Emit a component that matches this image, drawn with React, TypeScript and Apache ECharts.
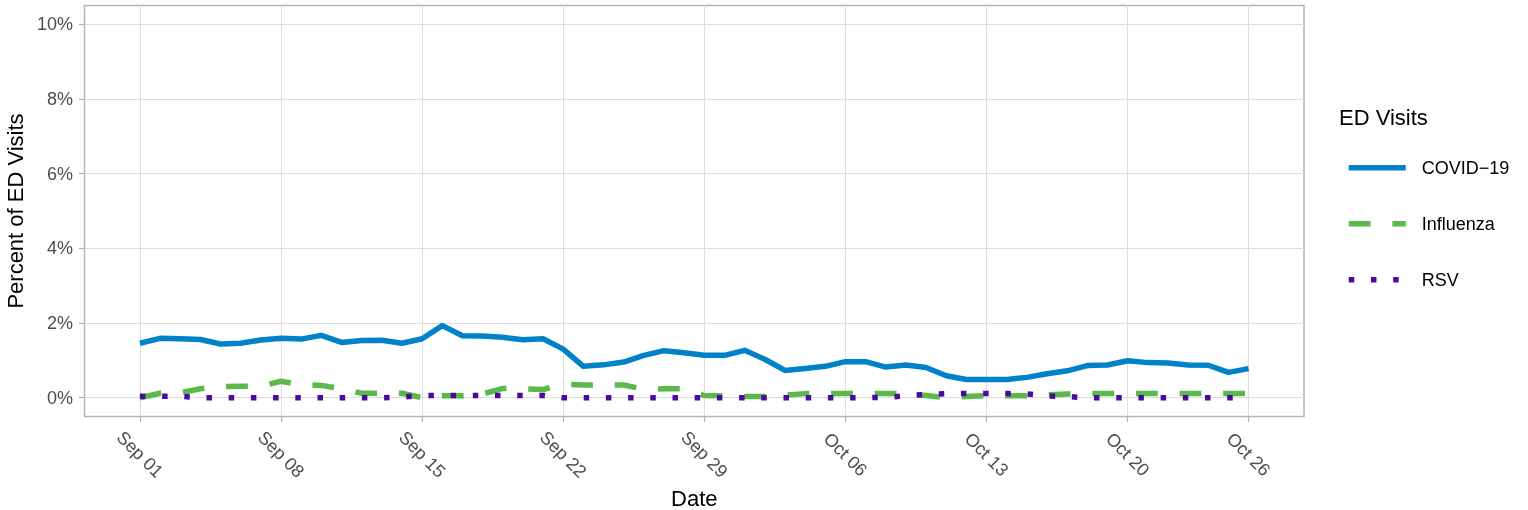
import React, { useEffect, useRef } from 'react';
import * as echarts from 'echarts';

const dates = [
  'Sep 01', 'Sep 02', 'Sep 03', 'Sep 04', 'Sep 05', 'Sep 06', 'Sep 07',
  'Sep 08', 'Sep 09', 'Sep 10', 'Sep 11', 'Sep 12', 'Sep 13', 'Sep 14',
  'Sep 15', 'Sep 16', 'Sep 17', 'Sep 18', 'Sep 19', 'Sep 20', 'Sep 21',
  'Sep 22', 'Sep 23', 'Sep 24', 'Sep 25', 'Sep 26', 'Sep 27', 'Sep 28',
  'Sep 29', 'Sep 30', 'Oct 01', 'Oct 02', 'Oct 03', 'Oct 04', 'Oct 05',
  'Oct 06', 'Oct 07', 'Oct 08', 'Oct 09', 'Oct 10', 'Oct 11', 'Oct 12',
  'Oct 13', 'Oct 14', 'Oct 15', 'Oct 16', 'Oct 17', 'Oct 18', 'Oct 19',
  'Oct 20', 'Oct 21', 'Oct 22', 'Oct 23', 'Oct 24', 'Oct 25', 'Oct 26',
];

const covid = [
  1.46, 1.59, 1.58, 1.56, 1.44, 1.46, 1.545, 1.59, 1.57, 1.67,
  1.48, 1.53, 1.54, 1.46, 1.58, 1.93, 1.66, 1.65, 1.62, 1.55,
  1.58, 1.3, 0.84, 0.88, 0.955, 1.135, 1.26, 1.205, 1.14, 1.135,
  1.27, 1.03, 0.73, 0.78, 0.84, 0.965, 0.965, 0.82, 0.875, 0.81,
  0.59, 0.49, 0.49, 0.49, 0.545, 0.64, 0.72, 0.86, 0.875, 0.99,
  0.94, 0.93, 0.875, 0.87, 0.68, 0.78,
];

const influenza = [
  0.0, 0.12, 0.13, 0.24, 0.3, 0.31, 0.31, 0.44, 0.35, 0.33,
  0.24, 0.12, 0.12, 0.12, 0.0, 0.05, 0.05, 0.1, 0.25, 0.24,
  0.22, 0.36, 0.34, 0.34, 0.34, 0.23, 0.24, 0.24, 0.06, 0.05,
  0.03, 0.03, 0.07, 0.11, 0.11, 0.11, 0.11, 0.11, 0.11, 0.06,
  0.0, 0.03, 0.06, 0.05, 0.05, 0.08, 0.1, 0.11, 0.11, 0.11,
  0.11, 0.11, 0.11, 0.11, 0.11, 0.11,
];

const rsv = [
  0.04, 0.04, 0.04, 0, 0, 0, 0, 0, 0, 0,
  0, 0, 0, 0.02, 0.06, 0.06, 0.06, 0.06, 0.06, 0.06,
  0.06, 0, 0, 0, 0, 0, 0, 0, 0, 0,
  0, 0, 0, 0, 0, 0, 0, 0.01, 0.05, 0.09,
  0.11, 0.11, 0.11, 0.11, 0.1, 0.05, 0.03, 0, 0, 0,
  0, 0, 0, 0, 0, 0,
];

const seriesNames = ['COVID−19', 'Influenza', 'RSV'];
const xTickLabels = ['Sep 01', 'Sep 08', 'Sep 15', 'Sep 22', 'Sep 29', 'Oct 06', 'Oct 13', 'Oct 20', 'Oct 26'];
const yTicks = [0, 2, 4, 6, 8, 10];

export default function App() {
  const ref = useRef<HTMLDivElement>(null);
  useEffect(() => {
    const chart = echarts.init(ref.current!, null, { renderer: 'svg' });
    const font = '"Liberation Sans", Arial, Helvetica, sans-serif';
    const xTickDays = xTickLabels.map((l) => dates.indexOf(l));
    const toPairs = (arr: number[]) => arr.map((v, i) => [i, v]);
    const gridLine = { show: true, lineStyle: { color: '#dedede', width: 1 } };
    const tick = { show: true, inside: false, length: 5.5, lineStyle: { color: '#b3b3b3', width: 1.2 } };
    const mk = (name: string, data: number[], color: string, type: any) => ({
      name,
      type: 'line',
      data: toPairs(data),
      symbol: 'none',
      showSymbol: false,
      silent: true,
      itemStyle: { color },
      lineStyle: { color, width: 5.5, type, cap: 'butt', join: 'round' },
    });
    chart.setOption({
      animation: false,
      textStyle: { fontFamily: font },
      grid: {
        left: 84.5,
        right: 224,
        top: 5.6,
        bottom: 93.6,
        containLabel: false,
        outerBoundsMode: 'none',
        show: true,
        borderColor: '#b3b3b3',
        borderWidth: 1.5,
        backgroundColor: 'transparent',
      },
      xAxis: {
        type: 'value',
        min: -2.75,
        max: 57.75,
        name: 'Date',
        nameLocation: 'middle',
        nameGap: 63,
        nameTextStyle: { fontSize: 22, color: '#000', fontFamily: font },
        axisLine: { show: false, onZero: false },
        axisTick: { ...tick, customValues: xTickDays },
        axisLabel: {
          customValues: xTickDays,
          formatter: (v: number) => {
            const i = xTickDays.indexOf(Math.round(v));
            return i >= 0 ? xTickLabels[i] : '';
          },
          rotate: -45,
          align: 'center',
          verticalAlign: 'middle',
          margin: 38,
          fontSize: 18,
          color: '#4d4d4d',
          fontFamily: font,
        },
        splitLine: gridLine,
      },
      yAxis: {
        type: 'value',
        min: -0.5,
        max: 10.5,
        name: 'Percent of ED Visits',
        nameLocation: 'middle',
        nameGap: 54,
        nameTextStyle: { fontSize: 22, color: '#000', fontFamily: font },
        axisLine: { show: false, onZero: false },
        axisTick: { ...tick, customValues: yTicks },
        axisLabel: {
          customValues: yTicks,
          formatter: (v: number) => `${Math.round(v)}%`,
          margin: 11.5,
          fontSize: 18,
          color: '#4d4d4d',
          fontFamily: font,
        },
        splitLine: gridLine,
      },
      legend: {
        orient: 'vertical',
        left: 1346,
        top: 158.7,
        padding: 0,
        itemWidth: 57,
        itemHeight: 20,
        itemGap: 38,
        selectedMode: false,
        data: seriesNames,
        textStyle: { fontSize: 18, color: '#000', fontFamily: font, padding: [0, 0, 0, 11] },
        lineStyle: { width: 5.5 },
        itemStyle: { opacity: 0 },
      },
      graphic: [
        {
          type: 'text',
          x: 1339,
          y: 117.5,
          style: { text: 'ED Visits', fontSize: 22, fill: '#000', fontFamily: font, verticalAlign: 'middle', align: 'left' },
        },
      ],
      series: [
        mk(seriesNames[0], covid, '#0082C8', 'solid'),
        mk(seriesNames[1], influenza, '#5BB94C', [21.8, 21.8]),
        mk(seriesNames[2], rsv, '#4B0A9E', [5.5, 16.7]),
      ],
    });
    return () => chart.dispose();
  }, []);
  return <div ref={ref} style={{ position: 'fixed', left: 0, top: 0, width: 1528, height: 510 }} />;
}
